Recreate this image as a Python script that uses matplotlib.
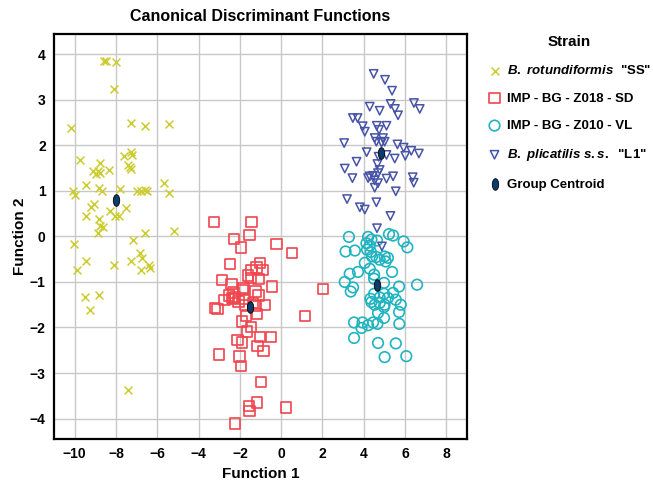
import matplotlib
matplotlib.use("Agg")
import matplotlib.pyplot as plt
from matplotlib.markers import MarkerStyle
from matplotlib.transforms import Affine2D

plt.rcParams['font.family'] = ['Liberation Sans', 'DejaVu Sans']
plt.rcParams['font.weight'] = 'bold'
plt.rcParams['mathtext.fontset'] = 'custom'
plt.rcParams['mathtext.it'] = 'Liberation Sans:italic:bold'
plt.rcParams['mathtext.rm'] = 'Liberation Sans:bold'

# B. rotundiformis "SS"
ss_x = [-8.6, -8.5, -8.0, -8.1, -10.17, -7.26, -6.6, -5.45,
        -9.72, -8.79, -7.26, -7.22, -7.63, -7.42, -7.3, -7.26,
        -9.13, -8.88, -8.96, -8.79, -8.35, -9.45, -8.83, -8.67,
        -7.79, -10.07, -9.96, -6.98, -6.77, -6.58, -6.5, -5.65, -5.42,
        -9.08, -9.19, -7.5, -9.43, -8.3, -8.03, -7.87, -8.83,
        -8.79, -8.64, -8.86, -6.61, -5.21, -7.19, -10.01,
        -6.85, -6.74, -6.42, -6.34, -6.79, -7.26, -9.44, -9.91, -8.11,
        -9.51, -8.83, -9.27, -7.43]
ss_y = [3.86, 3.86, 3.82, 3.23, 2.38, 2.49, 2.43, 2.48,
        1.67, 1.62, 1.86, 1.79, 1.77, 1.57, 1.52, 1.48,
        1.43, 1.43, 1.37, 1.40, 1.46, 1.13, 1.06, 0.99,
        1.04, 0.99, 0.91, 0.99, 0.99, 1.02, 1.0, 1.17, 0.95,
        0.72, 0.64, 0.62, 0.45, 0.55, 0.45, 0.45, 0.38,
        0.22, 0.2, 0.07, 0.07, 0.13, -0.08, -0.17,
        -0.36, -0.47, -0.62, -0.69, -0.73, -0.55, -0.55, -0.73, -0.63,
        -1.33, -1.29, -1.61, -3.38]

# IMP - BG - Z018 - SD
sd_x = [-3.25, -1.44, -1.54, -2.28, -1.94, -0.22, 0.51, -2.49,
        -1.02, -1.2, -1.44, -0.91, -1.59, -1.46, -1.1, -2.85, -2.41,
        -1.25, -0.44, 2.03, -1.83, -2.31, -2.51, -2.23, -2.75, -2.34,
        -2.07, -1.8, -1.35, -1.22, -0.77, -1.73, -3.2, -3.09,
        -1.18, 1.16, -1.71, -1.91, -1.46, -1.67, -2.12, -1.88,
        -1.02, -0.49, -1.15, -0.86, -3.02, -2.02, -1.95, -0.98,
        -1.18, -1.57, -1.54, 0.23, -2.25, -2.39, -1.1, -1.86]
sd_y = [0.31, 0.32, 0.03, -0.06, -0.24, -0.17, -0.37, -0.61,
        -0.58, -0.68, -0.73, -0.74, -0.86, -0.91, -0.93, -0.95, -1.04,
        -1.21, -1.1, -1.15, -1.13, -1.23, -1.30, -1.33, -1.40, -1.37,
        -1.43, -1.37, -1.46, -1.52, -1.5, -1.5, -1.57, -1.59,
        -1.70, -1.74, -1.75, -1.87, -1.99, -2.09, -2.27, -2.33,
        -2.21, -2.21, -2.4, -2.52, -2.59, -2.64, -2.84, -3.2,
        -3.65, -3.73, -3.84, -3.76, -4.11, -1.35, -1.3, -1.17]

# IMP - BG - Z010 - VL
vl_x = [3.28, 4.21, 4.37, 4.64, 4.13, 4.29, 5.22, 5.42, 5.93, 6.11,
        3.12, 3.57, 4.16, 4.34, 4.4, 4.61, 4.77, 5.01, 5.17, 5.06,
        4.05, 4.29, 3.32, 3.72, 4.5, 5.37, 3.08, 3.48, 3.37,
        4.5, 4.98, 5.71, 6.58,
        4.5, 4.32, 4.37, 4.53, 4.77, 4.98, 5.17, 5.42, 5.55, 5.79, 5.01, 4.77,
        4.98, 4.69, 5.71, 4.98, 3.53, 3.94, 3.89, 4.45, 4.21, 4.66, 5.72,
        3.53, 4.69, 5.55, 5.01, 6.06]
vl_y = [-0.01, -0.01, -0.07, -0.09, -0.15, -0.2, 0.05, 0.02, -0.11, -0.24,
        -0.33, -0.31, -0.29, -0.34, -0.44, -0.45, -0.51, -0.44, -0.47, -0.55,
        -0.58, -0.71, -0.82, -0.78, -0.84, -0.78, -1.0, -1.12, -1.21,
        -0.93, -1.02, -1.1, -1.06,
        -1.26, -1.37, -1.44, -1.5, -1.34, -1.26, -1.35, -1.24, -1.39, -1.5, -1.5, -1.46,
        -1.55, -1.68, -1.66, -1.79, -1.89, -1.89, -2.01, -1.89, -1.95, -1.92, -1.92,
        -2.23, -2.34, -2.35, -2.65, -2.63]

# B. plicatilis s.s. "L1"
l1_x = [4.48, 5.03, 5.37, 6.43, 6.71, 5.3, 5.51, 5.66, 4.29, 4.77,
        3.47, 3.7, 3.95, 4.05, 4.63, 5.1, 4.74, 3.05,
        4.53, 4.93, 4.61, 4.86, 5.01, 5.63, 5.93, 6.3, 6.67, 6.01,
        4.14, 5.1, 4.72, 5.5, 3.65, 4.66, 3.08, 4.77, 4.69,
        3.45, 4.29, 4.45, 4.21, 4.53, 5.1, 5.42, 4.69, 4.53, 6.37, 6.42,
        5.55, 3.19, 4.61, 3.81, 4.05, 5.29, 4.64, 4.88]
l1_y = [3.57, 3.44, 3.2, 2.93, 2.8, 2.91, 2.8, 2.66, 2.85, 2.76,
        2.6, 2.6, 2.42, 2.3, 2.43, 2.43, 2.34, 2.05,
        2.16, 2.16, 2.08, 2.06, 2.08, 2.02, 1.95, 1.88, 1.82, 1.77,
        1.85, 1.79, 1.75, 1.71, 1.64, 1.59, 1.49, 1.46, 1.39,
        1.28, 1.32, 1.33, 1.28, 1.23, 1.27, 1.32, 1.17, 1.07, 1.3, 1.18,
        0.99, 0.82, 0.75, 0.64, 0.59, 0.45, 0.18, -0.22]

centroid_x = [-8.0, -1.51, 4.64, 4.82]
centroid_y = [0.79, -1.56, -1.06, 1.83]

fig = plt.figure(figsize=(6.53, 4.83), dpi=100)
ax = fig.add_axes([0.0827, 0.091, 0.6325, 0.839])

ax.scatter(ss_x, ss_y, marker='x', s=32, color='#cccc2e', linewidths=1.1,
           label=r'$\mathit{B.\ rotundiformis}$  "SS"', zorder=3)
ax.scatter(sd_x, sd_y, marker='s', s=55, facecolors='none', edgecolors='#f0464e',
           linewidths=1.2, label='IMP - BG - Z018 - SD', zorder=3)
ax.scatter(vl_x, vl_y, marker='o', s=58, facecolors='none', edgecolors='#20b4c0',
           linewidths=1.2, label='IMP - BG - Z010 - VL', zorder=3)
ax.scatter(l1_x, l1_y, marker='v', s=36, facecolors='none', edgecolors='#4653a6',
           linewidths=1.1, label=r'$\mathit{B.\ plicatilis\ s.s.}$  "L1"', zorder=3)
ellipse = MarkerStyle('o', transform=Affine2D().scale(0.55, 1.0))
ax.scatter(centroid_x, centroid_y, marker=ellipse, s=70, color='#0d3b6e',
           edgecolors='black', linewidths=0.6, label='Group Centroid', zorder=4)

ax.set_xlim(-11, 9)
ax.set_ylim(-4.45, 4.45)
ax.set_xticks(range(-10, 9, 2))
ax.set_yticks(range(-4, 5))
ax.grid(True, color='#c8c8c8', linewidth=1.0)
ax.set_axisbelow(True)
ax.tick_params(length=0, labelsize=10, pad=6)
for lbl in ax.get_xticklabels() + ax.get_yticklabels():
    lbl.set_fontweight('bold')
for sp in ax.spines.values():
    sp.set_linewidth(1.6)

ax.set_title('Canonical Discriminant Functions', fontsize=11.5, fontweight='bold', pad=9)
ax.set_xlabel('Function 1', fontsize=11, fontweight='bold', labelpad=4)
ax.set_ylabel('Function 2', fontsize=11, fontweight='bold', labelpad=2)

leg = fig.legend(loc='upper left', bbox_to_anchor=(0.727, 0.952), frameon=False,
                 title='Strain', fontsize=9.5, title_fontsize=11, labelspacing=1.15,
                 handletextpad=0.35, handlelength=1.2)
leg.get_title().set_fontweight('bold')
for t in leg.get_texts():
    t.set_fontweight('bold')

fig.savefig('out.png', dpi=100)
